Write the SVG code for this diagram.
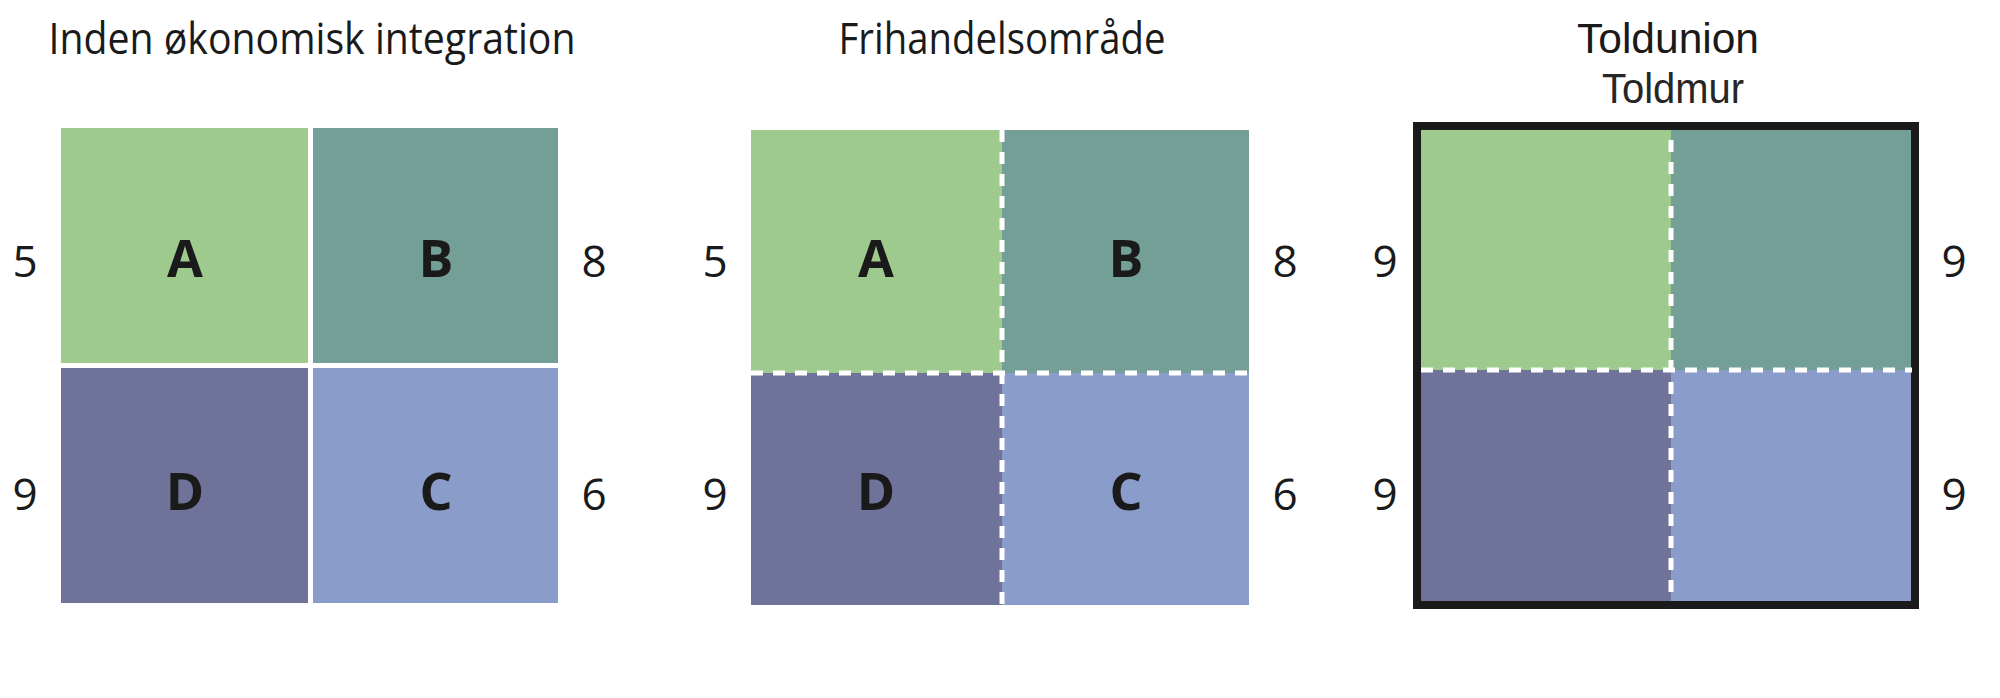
<svg xmlns="http://www.w3.org/2000/svg" width="2000" height="698" viewBox="0 0 2000 698">
<style>
text{font-family:"Open Sans","Noto Sans","Liberation Sans",sans-serif;fill:#1a1a1a}
.title{font-size:44px;text-anchor:middle}
.ttl3{font-family:"Liberation Sans","Arial",sans-serif;font-size:43px;text-anchor:middle}
.sub{fill:#262626}
.num{font-size:44px;text-anchor:middle}
.lbl{font-size:52px;font-weight:700;text-anchor:middle}
.a{fill:#9ECA8E}.b{fill:#749F97}.c{fill:#8A9CCA}.d{fill:#6F7299}
.dash{stroke:#ffffff;stroke-width:5;stroke-dasharray:12 10;fill:none}
.wall{fill:none;stroke:#1a1a1a;stroke-width:8}
</style>
<rect width="2000" height="698" fill="#ffffff"/>

<g id="panel1">
  <text class="title" x="312" y="54" textLength="527" lengthAdjust="spacingAndGlyphs">Inden økonomisk integration</text>
  <g id="p1-A"><rect class="a" x="61" y="128" width="247" height="235"/><text class="lbl" x="185" y="277">A</text></g>
  <g id="p1-B"><rect class="b" x="313" y="128" width="245" height="235"/><text class="lbl" x="436" y="277">B</text></g>
  <g id="p1-D"><rect class="d" x="61" y="368" width="247" height="235"/><text class="lbl" x="185" y="510">D</text></g>
  <g id="p1-C"><rect class="c" x="313" y="368" width="245" height="235"/><text class="lbl" x="436" y="510">C</text></g>
  <text class="num" x="25" y="277">5</text>
  <text class="num" x="25" y="510">9</text>
  <text class="num" x="594" y="277">8</text>
  <text class="num" x="594" y="510">6</text>
</g>

<g id="panel2">
  <text class="title" x="1002" y="54" textLength="327" lengthAdjust="spacingAndGlyphs">Frihandelsområde</text>
  <g id="p2-A"><rect class="a" x="751" y="130" width="251" height="243"/><text class="lbl" x="876" y="277">A</text></g>
  <g id="p2-B"><rect class="b" x="1002" y="130" width="247" height="243"/><text class="lbl" x="1126" y="277">B</text></g>
  <g id="p2-D"><rect class="d" x="751" y="373" width="251" height="232"/><text class="lbl" x="876" y="510">D</text></g>
  <g id="p2-C"><rect class="c" x="1002" y="373" width="247" height="232"/><text class="lbl" x="1126" y="510">C</text></g>
  <text class="num" x="715" y="277">5</text>
  <text class="num" x="715" y="510">9</text>
  <text class="num" x="1285" y="277">8</text>
  <text class="num" x="1285" y="510">6</text>
</g>

<g id="panel3">
  <text class="ttl3" x="1668" y="53" textLength="182" lengthAdjust="spacingAndGlyphs">Toldunion</text>
  <text class="ttl3 sub" x="1673" y="103" textLength="142" lengthAdjust="spacingAndGlyphs">Toldmur</text>
  <g id="p3-A"><rect class="a" x="1421" y="130" width="250" height="240"/></g>
  <g id="p3-B"><rect class="b" x="1671" y="130" width="241" height="240"/></g>
  <g id="p3-D"><rect class="d" x="1421" y="370" width="250" height="232"/></g>
  <g id="p3-C"><rect class="c" x="1671" y="370" width="241" height="232"/></g>
  <rect id="toldmur" class="wall" x="1417" y="126" width="498" height="479"/>
  <text class="num" x="1385" y="277">9</text>
  <text class="num" x="1385" y="510">9</text>
  <text class="num" x="1954" y="277">9</text>
  <text class="num" x="1954" y="510">9</text>
</g>

<g id="connectors">
  <line class="dash" x1="1002" y1="130" x2="1002" y2="605"/>
  <line class="dash" x1="751" y1="373" x2="1249" y2="373"/>
  <line class="dash" x1="1671" y1="140" x2="1671" y2="602"/>
  <line class="dash" x1="1421" y1="370" x2="1912" y2="370"/>
</g>
</svg>
